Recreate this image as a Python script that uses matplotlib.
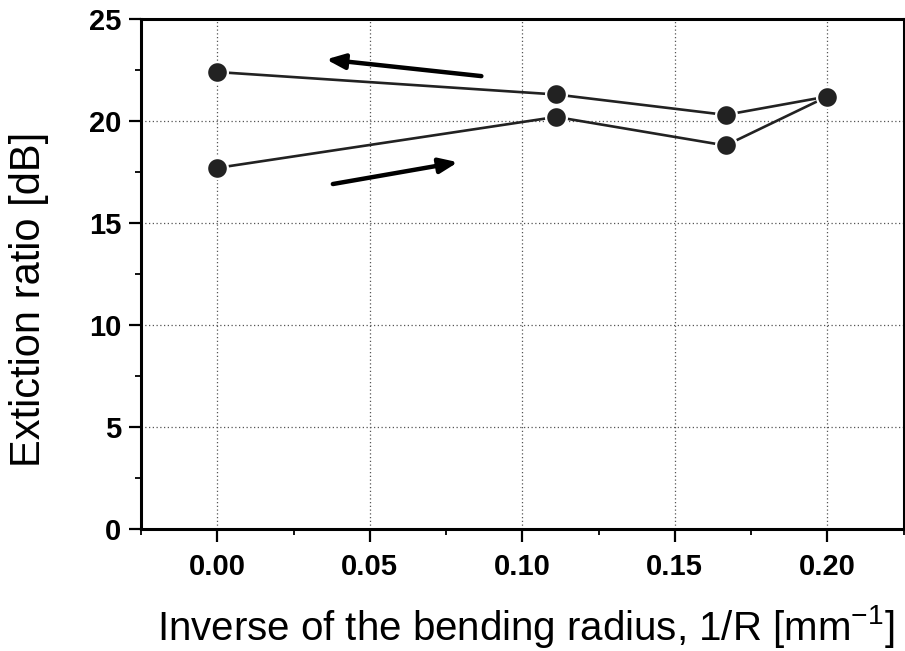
import matplotlib
matplotlib.use("Agg")
import matplotlib.pyplot as plt
from matplotlib.ticker import MultipleLocator

# data
inv_radius = [0.0, 1/9, 1/6, 0.2]
ratio_up = [17.7, 20.2, 18.8, 21.2]      # increasing bend (lower branch)
ratio_down = [22.4, 21.3, 20.3, 21.2]    # decreasing bend (upper branch)

xticks = [0.00, 0.05, 0.10, 0.15, 0.20]
xticklabels = ["0.00", "0.05", "0.10", "0.15", "0.20"]
yticks = [0, 5, 10, 15, 20, 25]

# arrows (tail -> head) in data units
arrow_down = ((0.0866, 22.2), (0.0357, 23.02))
arrow_up = ((0.0379, 16.91), (0.0789, 17.98))

plt.rcParams['font.family'] = ['Liberation Sans', 'DejaVu Sans']
plt.rcParams['mathtext.fontset'] = 'custom'
plt.rcParams['mathtext.rm'] = 'Liberation Sans'

fig = plt.figure(figsize=(9.05, 6.51), dpi=100)
ax = fig.add_axes([141/905, 1 - 529/651, 762.5/905, (529 - 19)/651])

col = '#222222'
for ys in (ratio_down, ratio_up):
    ax.plot(inv_radius, ys, '-', color=col, lw=1.9, marker='o', ms=15,
            markerfacecolor=col, markeredgecolor='white', markeredgewidth=1.6,
            zorder=3, clip_on=False)

for (t, h) in (arrow_down, arrow_up):
    ax.annotate('', xy=h, xytext=t,
                arrowprops=dict(arrowstyle='-|>,head_length=1.1,head_width=0.45',
                                color='black', lw=3.2, shrinkA=0, shrinkB=0),
                zorder=4)

ax.set_xlim(-0.025, 0.225)
ax.set_ylim(0, 25)
ax.set_xticks(xticks)
ax.set_xticklabels(xticklabels)
ax.set_yticks(yticks)
ax.xaxis.set_minor_locator(MultipleLocator(0.025))
ax.yaxis.set_minor_locator(MultipleLocator(2.5))

ax.grid(True, which='major', linestyle=(0, (1, 2)), color='#555555', lw=0.9)
ax.set_axisbelow(True)

for s in ax.spines.values():
    s.set_linewidth(2.2)
    s.set_color('black')

ax.tick_params(axis='both', which='major', direction='out', length=9, width=1.6,
               labelsize=21)
ax.tick_params(axis='both', which='minor', direction='out', length=4.5, width=1.3)
ax.tick_params(axis='x', which='major', pad=8)
ax.tick_params(axis='y', which='major', pad=5)
for lab in ax.get_xticklabels() + ax.get_yticklabels():
    lab.set_fontweight('bold')

ax.set_ylabel('Extiction ratio [dB]', fontsize=30)
ax.yaxis.set_label_coords(-0.12, 0.45)
ax.set_xlabel(r'Inverse of the bending radius, 1/R [mm$^{\mathregular{-1}}$]',
              fontsize=29)
ax.xaxis.set_label_coords(0.505, -0.145)

fig.savefig('out.png', dpi=100)
